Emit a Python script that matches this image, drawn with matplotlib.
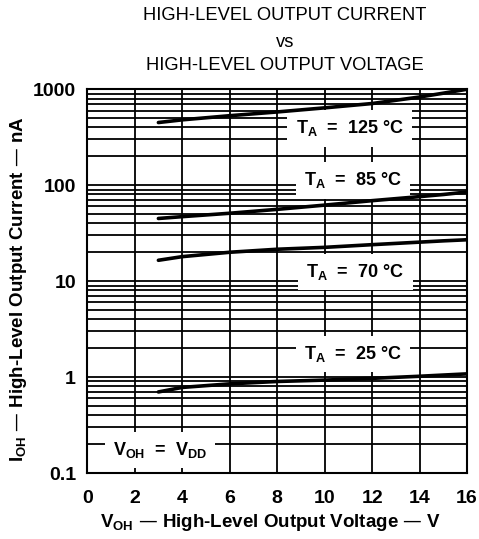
import matplotlib
matplotlib.use("Agg")
import matplotlib.pyplot as plt
from matplotlib.ticker import FixedLocator, LogLocator, NullFormatter

plt.rcParams["font.family"] = ["Liberation Sans", "DejaVu Sans"]
plt.rcParams["mathtext.default"] = "regular"

# Data (nA vs V)
voh = [3, 4, 6, 8, 10, 12, 14, 15, 16]
i_125 = [450, 480, 530, 580, 640, 710, 830, 910, 1000]
i_85 = [45, 47, 51, 56, 62, 69, 76, 80, 85]
i_70 = [16.5, 18, 20, 21.5, 22.5, 24, 25.5, 26.3, 27]
i_25 = [0.70, 0.78, 0.85, 0.90, 0.93, 0.97, 1.02, 1.05, 1.08]

x_ticks = [0, 2, 4, 6, 8, 10, 12, 14, 16]
y_ticks = [0.1, 1, 10, 100, 1000]
y_labels = ["0.1", "1", "10", "100", "1000"]

fig = plt.figure(figsize=(4.79, 5.39), dpi=100)
ax = fig.add_axes([0.182, 0.1224, 0.793, 0.712])

ax.set_yscale("log")
ax.set_xlim(0, 16)
ax.set_ylim(0.1, 1000)

ax.xaxis.set_major_locator(FixedLocator(x_ticks))
ax.yaxis.set_major_locator(FixedLocator(y_ticks))
ax.yaxis.set_minor_locator(LogLocator(base=10, subs=range(2, 10)))
ax.yaxis.set_minor_formatter(NullFormatter())
ax.set_yticklabels(y_labels)

ax.grid(True, which="both", color="black", lw=1.3)
ax.tick_params(which="both", length=0)
ax.tick_params(axis="x", pad=12)
ax.tick_params(axis="y", pad=8)
for lab in ax.get_xticklabels() + ax.get_yticklabels():
    lab.set_fontweight("bold")
    lab.set_fontsize(14)
for s in ax.spines.values():
    s.set_linewidth(1.5)

for ys in [i_125, i_85, i_70, i_25]:
    ax.plot(voh, ys, color="black", lw=2.6, solid_capstyle="round", zorder=5)

box = dict(facecolor="white", edgecolor="none", pad=6)
kw = dict(fontsize=13, fontweight="bold", ha="center", va="center", bbox=box, zorder=4)
ax.text(11.05, 390, "T$_A$  =  125 °C", **kw)
ax.text(11.2, 112, "T$_A$  =  85 °C", **kw)
ax.text(11.3, 12.4, "T$_A$  =  70 °C", **kw)
ax.text(11.2, 1.74, "T$_A$  =  25 °C", **kw)
ax.text(3.07, 0.174, "V$_{OH}$  =  V$_{DD}$", **kw)

fig.text(0.565, 0.030, "V$_{OH}$ — High-Level Output Voltage — V", fontsize=13.5,
         fontweight="bold", ha="center", va="center")
fig.text(0.038, 0.464, "I$_{OH}$ — High-Level Output Current — nA", fontsize=13.5,
         fontweight="bold", ha="center", va="center", rotation=90)

fig.text(0.595, 0.972, "HIGH-LEVEL OUTPUT CURRENT", ha="center", va="center", fontsize=13.2)
fig.text(0.595, 0.922, "vs", ha="center", va="center", fontsize=13.2)
fig.text(0.595, 0.879, "HIGH-LEVEL OUTPUT VOLTAGE", ha="center", va="center", fontsize=13.2)

fig.savefig("out.png", dpi=100)
